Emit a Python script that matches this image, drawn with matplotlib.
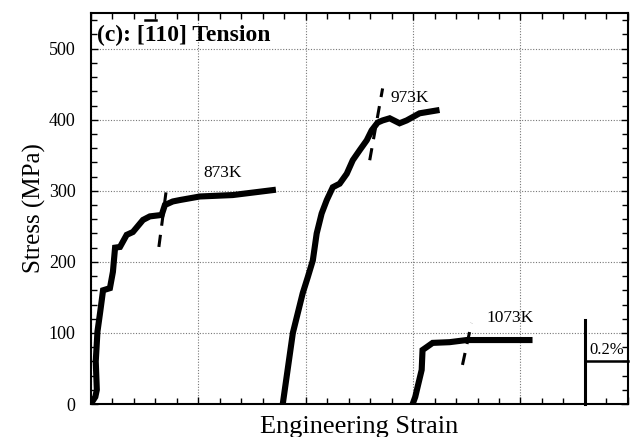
import numpy as np
import matplotlib
matplotlib.use("Agg")
import matplotlib.pyplot as plt
from matplotlib.ticker import MultipleLocator

plt.rcParams['font.family'] = ['Liberation Serif', 'DejaVu Serif']

# strain in %, stress in MPa
strain_873 = [0.0, 0.005, 0.02, 0.027, 0.022, 0.03, 0.042, 0.05, 0.056, 0.088, 0.102,
              0.112, 0.135, 0.166, 0.195, 0.242, 0.274, 0.329, 0.344, 0.381, 0.414,
              0.507, 0.66, 0.847]
stress_873 = [0, 3, 10, 20, 60, 102, 128, 146, 160, 163, 186,
              220, 221, 238, 242, 259, 264, 266, 280, 285, 287,
              292, 294, 301]

strain_973 = [0.893, 0.94, 0.986, 1.009, 1.033, 1.051, 1.074, 1.098, 1.126, 1.158,
              1.191, 1.219, 1.251, 1.284, 1.307, 1.335, 1.358, 1.391, 1.437, 1.47,
              1.53, 1.609]
stress_973 = [0, 100, 156, 178, 202, 240, 268, 287, 305, 310,
              324, 343, 357, 371, 385, 396, 399, 402, 395, 399,
              409, 413]

strain_1073 = [1.498, 1.51, 1.521, 1.54, 1.544, 1.563, 1.591, 1.67, 1.749, 2.042]
stress_1073 = [0, 10, 24, 48, 76, 80, 86, 87, 90, 90]

# 0.2% offset lines
off_873_x = [0.316, 0.35]
off_873_y = [221, 300]
off_973_x = [1.298, 1.358]
off_973_y = [343, 444]
off_1073_x = [1.73, 1.772]
off_1073_y = [55, 114]

# scale bar
bar_x = [2.3, 2.5]
bar_y = 60
bar_top = 118

labels = ["873K", "973K", "1073K"]
label_x = [0.614, 1.484, 1.953]
label_y = [325, 431, 121]

fig = plt.figure(figsize=(6.33, 4.37), dpi=100)
ax = fig.add_axes([0.1438, 0.0755, 0.848, 0.8945])

lw = 4.4
ax.plot(strain_873, stress_873, color='black', lw=lw, solid_joinstyle='miter')
ax.plot(strain_973, stress_973, color='black', lw=lw, solid_joinstyle='miter')
ax.plot(strain_1073, stress_1073, color='black', lw=lw, solid_joinstyle='miter')

for xs, ys in [(off_873_x, off_873_y), (off_973_x, off_973_y), (off_1073_x, off_1073_y)]:
    ax.plot(xs, ys, color='black', lw=2.2, dashes=(4, 3))

ax.plot([bar_x[0], bar_x[0]], [0, bar_top], color='black', lw=2.2, clip_on=False)
ax.plot(bar_x, [bar_y, bar_y], color='black', lw=1.8, clip_on=False)
ax.text(2.4, bar_y + 5, "0.2%", fontsize=12, ha='center', va='bottom')

for t, x, y in zip(labels, label_x, label_y):
    ax.text(x, y, t, fontsize=12.5, ha='center', va='center')

title = "(c): [110] Tension"
tx, ty = 0.011, 0.944
ax.text(tx, ty, title, transform=ax.transAxes, fontsize=17, fontweight='bold',
        ha='left', va='center')

# overbar above the first "1"
fig.canvas.draw()
r = fig.canvas.get_renderer()
pre = ax.text(tx, ty, "(c): [", transform=ax.transAxes, fontsize=17, fontweight='bold',
              ha='left', va='center')
pre1 = ax.text(tx, ty, "(c): [1", transform=ax.transAxes, fontsize=17, fontweight='bold',
               ha='left', va='center')
b0 = pre.get_window_extent(r)
b1 = pre1.get_window_extent(r)
pre.remove()
pre1.remove()
inv = fig.transFigure.inverted()
x0, ytop = inv.transform((b0.x1, b1.y1 + 4))
x1, _ = inv.transform((b1.x1, b1.y1 + 4))
fig.add_artist(plt.Line2D([x0 + 0.001, x1 - 0.001], [ytop, ytop], color='black', lw=1.8,
                          transform=fig.transFigure))

ax.set_xlim(0, 2.5)
ax.set_ylim(0, 550)
ax.xaxis.set_major_locator(MultipleLocator(0.5))
ax.xaxis.set_minor_locator(MultipleLocator(0.1))
ax.yaxis.set_major_locator(MultipleLocator(100))
ax.yaxis.set_minor_locator(MultipleLocator(20))
ax.set_xticklabels([])
ax.tick_params(which='both', direction='in', top=True, right=True, width=1.0)
ax.tick_params(which='major', length=5, labelsize=13)
ax.tick_params(axis='y', which='major', pad=11)
ax.tick_params(axis='x', which='major', pad=3)
ax.tick_params(which='minor', length=4)
ax.grid(True, which='major', color='#777777', linestyle=(0, (1, 1.5)), linewidth=0.8)
for s in ax.spines.values():
    s.set_linewidth(1.5)

ax.set_xlabel("Engineering Strain", fontsize=19, labelpad=5)
ax.set_ylabel("Stress (MPa)", fontsize=18, labelpad=2)

fig.savefig("out.png", dpi=100)
